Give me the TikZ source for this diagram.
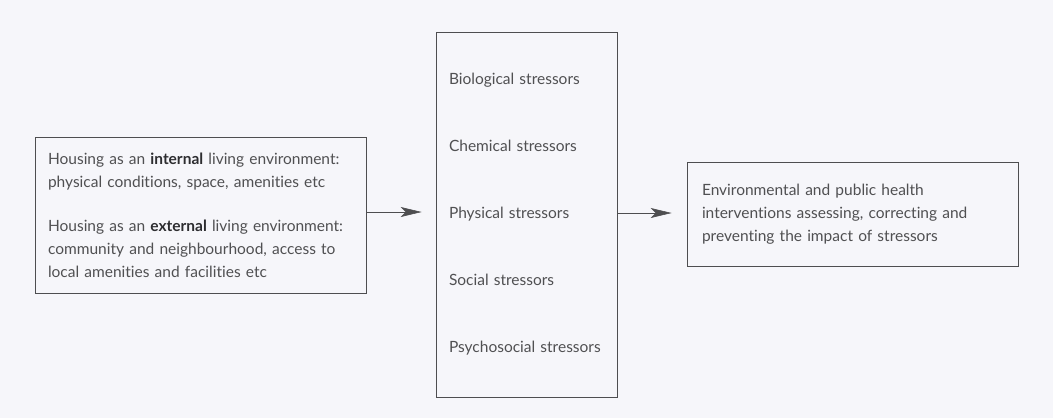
\documentclass[tikz,border=0pt]{standalone}
\usepackage{fontspec}
\setmainfont{Lato}[Ligatures=NoCommon]
\usetikzlibrary{arrows.meta}
\definecolor{pagebg}{RGB}{246,246,250}
\definecolor{inkgray}{RGB}{80,80,82}
\definecolor{linegray}{RGB}{78,78,80}
\definecolor{boldink}{RGB}{45,45,48}
\tikzset{
  frame/.style={draw=linegray, line width=0.8pt, fill=pagebg, rectangle, inner sep=0pt,
    text=inkgray, font=\fontsize{15.5}{23}\selectfont, align=left},
  flow/.style={draw=linegray, line width=0.6pt,
    -{Stealth[length=21pt, width=10pt, inset=5pt]}},
}
\newcommand{\keyword}[1]{{\bfseries\color{boldink}#1}}
\begin{document}
\begin{tikzpicture}[x=1pt, y=-1pt]
  \fill[pagebg] (0,0) rectangle (1053,418);
  \useasboundingbox (0,0) rectangle (1053,418);

  % housing as living environment
  \node[frame, minimum width=331pt, minimum height=156pt, text width=305pt] (house) at (200.5,215)
    {Housing as an \keyword{internal} living environment:\\
     physical conditions, space, amenities etc\\[21pt]
     Housing as an \keyword{external} living environment:\\
     community and neighbourhood, access to\\
     local amenities and facilities etc};

  % stressors
  \node[frame, minimum width=181pt, minimum height=365pt, text width=155pt] (stress) at (526.5,214.5)
    {\mbox{Biological stressors}\\[44pt]
     \mbox{Chemical stressors}\\[44pt]
     \mbox{Physical stressors}\\[44pt]
     \mbox{Social stressors}\\[44pt]
     \mbox{Psychosocial stressors}};

  % interventions
  \node[frame, minimum width=331pt, minimum height=104pt, text width=301pt] (act) at (852.5,214)
    {Environmental and public health\\
     interventions assessing, correcting and\\
     preventing the impact of stressors};

  \draw[flow, shorten >=14pt] (house.east |- 0,212) -- (stress.west |- 0,212);
  \draw[flow, shorten >=15pt] (stress.east |- 0,213) -- (act.west |- 0,213);
\end{tikzpicture}
\end{document}
